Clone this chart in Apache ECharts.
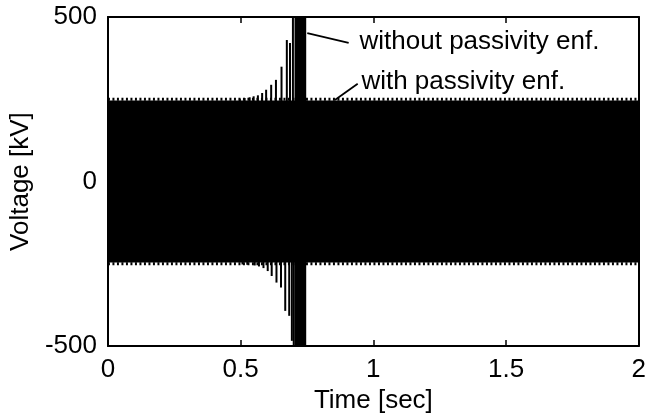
<!DOCTYPE html>
<html><head><meta charset="utf-8">
<script src="https://cdn.jsdelivr.net/npm/echarts@6/dist/echarts.min.js"></script>
<style>html,body{margin:0;padding:0;background:#fff}#c{width:649px;height:419px}</style>
</head><body><div id="c"></div>
<script>
// tick values
const xTicks = [0, 0.5, 1, 1.5, 2];
const yTicks = [-500, 0, 500];

// with passivity enforcement: steady oscillation envelope (kV)
const stableTime  = [0, 2];
const stableUpper = [246, 246];
const stableLower = [-246, -246];
const stableTeethUpper = [250, 250];
const stableTeethLower = [-250, -250];

// without passivity enforcement: individual growing peaks (sec, kV)
const growTime = [0.497, 0.515, 0.534, 0.549, 0.565, 0.581, 0.596, 0.615, 0.633, 0.654, 0.674, 0.686, 0.697,
                  0.507, 0.525, 0.553, 0.569, 0.586, 0.602, 0.617, 0.635, 0.652, 0.668, 0.683, 0.693, 0.700];
const growPeak = [252, 254, 256, 259, 262, 269, 279, 294, 309, 349, 430, 421, 520,
                  -252, -253, -255, -258, -263, -272, -287, -307, -322, -393, -408, -484, -520];

// without passivity enforcement: burst that leaves the axis range
const burstTime  = [0.703, 0.747];
const burstUpper = [600, 600];
const burstLower = [-600, -600];

const zip = (a, b) => a.map((v, i) => [v, b[i]]);
const FONT = "'Liberation Sans', Arial, Helvetica, sans-serif";
const FS = 26;

const chart = echarts.init(document.getElementById('c'), null, {renderer: 'canvas'});

const axisLine = {show: true, onZero: false, lineStyle: {color: '#000', width: 2}};
const axisTick = {show: true, inside: true, length: 6, lineStyle: {color: '#000', width: 1.5}};

const xBase = {
  type: 'value', min: xTicks[0], max: xTicks[xTicks.length - 1], interval: xTicks[1] - xTicks[0],
  axisLine, axisTick, splitLine: {show: false}
};
const yBase = {
  type: 'value', min: yTicks[0], max: yTicks[yTicks.length - 1], interval: yTicks[1] - yTicks[0],
  axisLine, axisTick, splitLine: {show: false}
};

const band = (data, origin) => ({type: 'line', symbol: 'none', lineStyle: {width: 0},
  areaStyle: {color: '#000', opacity: 1, origin: origin}, silent: true, clip: true, data: data});
const teethStyle = {type: 'line', symbol: 'none', lineStyle: {color: '#000', width: 3, type: [2, 2.5]}, silent: true};

const upperBand = band(zip(stableTime, stableUpper), -30);
upperBand.markLine = {
  silent: true, symbol: ['none', 'none'], label: {show: false},
  lineStyle: {color: '#000', width: 1.8, type: 'solid'},
  data: [
    [{coord: [0.751, 451]}, {coord: [0.907, 421]}],
    [{coord: [0.855, 248]}, {coord: [0.941, 297]}]
  ]
};
upperBand.markPoint = {
  silent: true, symbol: 'circle', symbolSize: 0,
  label: {show: true, position: 'right', distance: 0, color: '#000', fontSize: FS, fontFamily: FONT, formatter: '{b}'},
  data: [
    {name: 'without passivity enf.', coord: [0.948, 424]},
    {name: 'with passivity enf.', coord: [0.955, 303]}
  ]
};

chart.setOption({
  animation: false,
  backgroundColor: '#fff',
  textStyle: {fontFamily: FONT},
  grid: {left: 103, right: 8, top: 17, bottom: 72, containLabel: false},
  xAxis: [
    Object.assign({}, xBase, {
      position: 'bottom',
      axisLabel: {color: '#000', fontSize: FS, fontFamily: FONT, margin: 11},
      name: 'Time [sec]', nameLocation: 'middle', nameGap: 40,
      nameTextStyle: {color: '#000', fontSize: FS, fontFamily: FONT}
    }),
    Object.assign({}, xBase, {position: 'top', axisLabel: {show: false}})
  ],
  yAxis: [
    Object.assign({}, yBase, {
      position: 'left',
      axisLabel: {color: '#000', fontSize: FS, fontFamily: FONT, margin: 11},
      name: 'Voltage [kV]', nameLocation: 'middle', nameGap: 67, nameRotate: 90,
      nameTextStyle: {color: '#000', fontSize: FS, fontFamily: FONT}
    }),
    Object.assign({}, yBase, {position: 'right', axisLabel: {show: false}})
  ],
  series: [
    upperBand,
    band(zip(stableTime, stableLower), 30),
    Object.assign({}, teethStyle, {data: zip(stableTime, stableTeethUpper)}),
    Object.assign({}, teethStyle, {data: zip(stableTime, stableTeethLower)}),
    {type: 'bar', data: zip(growTime, growPeak), barWidth: 2, itemStyle: {color: '#000'}, silent: true, clip: true},
    band(zip(burstTime, burstUpper), -30),
    band(zip(burstTime, burstLower), 30)
  ]
});
</script>
</body></html>
